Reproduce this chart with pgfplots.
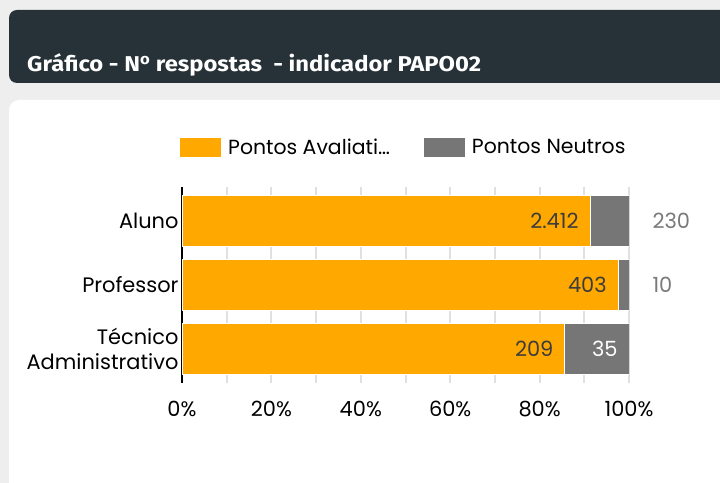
\documentclass[border=0pt]{standalone}
\usepackage{fontspec}
\setmainfont{Poppins}
\newfontfamily\titlefont{Fira Sans}
\usepackage{graphicx}
\usepackage{pgfplots}
\usepackage{pgfplotstable}
\pgfplotsset{compat=1.18}
\definecolor{bgc}{HTML}{EEEEEE}
\definecolor{hdr}{HTML}{263238}
\definecolor{orng}{HTML}{FFA800}
\definecolor{greyb}{HTML}{767676}
\definecolor{txtd}{HTML}{3C3C3C}
\definecolor{txtl}{HTML}{7A7A7A}
\definecolor{gridc}{HTML}{E0E0E0}

% category index, share (%), count
\pgfplotstableread{
y pct val
0 91.294 2412
1 97.579 403
2 85.656 209
}\avaltable
\pgfplotstableread{
y pct val
0 8.706 230
1 2.421 10
2 14.344 35
}\neutable
% label positions of the neutral counts (end of the stacked bar)
\pgfplotstableread{
y pos val
0 100 230
1 100 10
}\neuout
\pgfplotstableread{
y pos val
2 100 35
}\neuin

\begin{document}
\begin{tikzpicture}[x=1bp,y=1bp]
\useasboundingbox (0,0) rectangle (720,483);
\clip (0,0) rectangle (720,483);
\fill[bgc] (0,0) rectangle (720,483);
\fill[hdr, rounded corners=8bp] (9,400) rectangle (760,473);
\fill[white, rounded corners=10bp] (9,-30) rectangle (760,383);
\node[anchor=base west, text=white, inner sep=0pt,
  font=\titlefont\bfseries\fontsize{21.5}{25}\selectfont] at (27,411)
  {\scalebox{1.11}[1]{Gráfico - N\textsuperscript{o} respostas\ \ - indicador PAPO02}};
\pgfplotsset{
  common/.style={
    at={(182bp,100bp)}, anchor=south west,
    width=447bp, height=196bp, scale only axis,
    xmin=0, xmax=100, ymin=-0.53, ymax=2.53, y dir=reverse,
    /pgf/number format/assume math mode=true,
    /pgf/number format/1000 sep={.},
  }
}
\begin{axis}[
  common,
  xbar stacked, bar width=51bp,
  ytick={0,1,2},
  yticklabels={Aluno,Professor,{Técnico\\Administrativo}},
  yticklabel style={align=right, font=\fontsize{21}{25}\selectfont, text=black},
  xtick={0,20,...,100}, minor xtick={10,30,...,90},
  xticklabel={\pgfmathprintnumber{\tick}\%},
  xticklabel style={font=\fontsize{21}{25}\selectfont, text=black, yshift=-15bp},
  major tick length=0pt, minor tick length=0pt,
  xmajorgrids, xminorgrids,
  major grid style={gridc, line width=2bp},
  minor grid style={gridc, line width=2bp},
  separate axis lines,
  axis x line*=bottom, axis y line*=left,
  x axis line style={draw=none},
  y axis line style={black, line width=2.6bp},
  legend columns=2,
  legend style={draw=none, fill=none, inner sep=0pt, anchor=west,
    at={(-0.0045,1.2015)}, font=\fontsize{20.5}{24}\selectfont,
    /tikz/every odd column/.append style={column sep=5bp},
    /tikz/every even column/.append style={column sep=32bp}},
  legend image code/.code={\path[#1, draw=none] (0bp,-9.5bp) rectangle (41bp,9.5bp);},
]
\addplot[fill=orng, draw=white, line width=1bp] table[x=pct, y=y] {\avaltable};
\addlegendentry{Pontos Avaliati…}
\addplot[fill=greyb, draw=white, line width=1bp] table[x=pct, y=y] {\neutable};
\addlegendentry{Pontos Neutros}
\end{axis}
\begin{axis}[common, hide axis,
  nodes near coords,
  every node near coord/.append style={font=\fontsize{21}{25}\selectfont},
]
\addplot[draw=none, mark=none, point meta=explicit,
  nodes near coords style={anchor=east, xshift=-8bp, text=txtd}]
  table[x=pct, y=y, meta=val] {\avaltable};
\addplot[draw=none, mark=none, point meta=explicit,
  nodes near coords style={anchor=west, xshift=20bp, text=txtl}]
  table[x=pos, y=y, meta=val] {\neuout};
\addplot[draw=none, mark=none, point meta=explicit,
  nodes near coords style={anchor=east, xshift=-8bp, text=white}]
  table[x=pos, y=y, meta=val] {\neuin};
\end{axis}
\end{tikzpicture}
\end{document}
